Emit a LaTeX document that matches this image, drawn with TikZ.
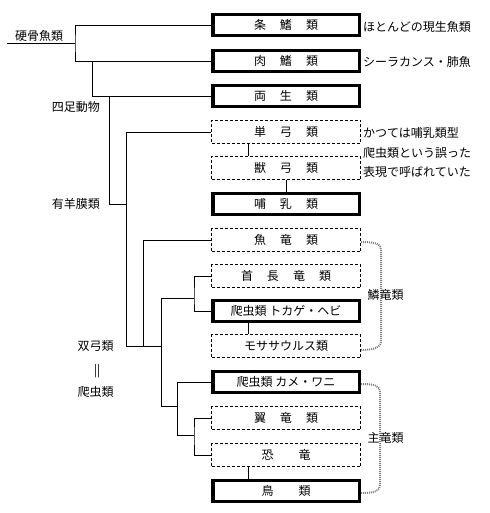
\documentclass[tikz,border=0pt]{standalone}
\usepackage{fontspec}
\newfontfamily\jpfont{Noto Sans CJK JP}
\newcommand{\kgap}{\hspace{14pt}}
\newcommand{\kwide}{\hspace{25pt}}
\tikzset{
  jp/.style={font=\jpfont\fontsize{12}{14}\selectfont},
  thickbox/.style={jp, draw, line width=3.5pt, minimum width=146.5pt, minimum height=21pt, inner sep=0pt},
  dashbox/.style={jp, draw, line width=0.8pt, dash pattern=on 3pt off 2pt, minimum width=149pt, minimum height=23pt, inner sep=0pt},
  tree/.style={line width=0.9pt},
  lbl/.style={jp, inner sep=0pt},
  brace/.style={draw={rgb,255:red,128;green,128;blue,128}, line width=2pt, dash pattern=on 1pt off 1pt},
}
\begin{document}
\begin{tikzpicture}[x=1pt,y=1pt]
\useasboundingbox (0,0) rectangle (489,-513);
% boxes
\node[thickbox] (b1)  at (286,-25)  {条\kgap 鰭\kgap 類};
\node[thickbox] (b2)  at (286,-61)  {肉\kgap 鰭\kgap 類};
\node[thickbox] (b3)  at (286,-96)  {両\kgap 生\kgap 類};
\node[dashbox]  (b4)  at (286,-132) {単\kgap 弓\kgap 類};
\node[dashbox]  (b5)  at (286,-168) {獣\kgap 弓\kgap 類};
\node[thickbox] (b6)  at (286,-204) {哺\kgap 乳\kgap 類};
\node[dashbox]  (b7)  at (286,-240) {魚\kgap 竜\kgap 類};
\node[dashbox]  (b8)  at (286,-276) {首\kgap 長\kgap 竜\kgap 類};
\node[thickbox] (b9)  at (286,-311) {爬虫類 トカゲ・ヘビ};
\node[dashbox]  (b10) at (286,-346) {モササウルス類};
\node[thickbox] (b11) at (286,-382) {爬虫類 カメ・ワニ};
\node[dashbox]  (b12) at (286,-418) {翼\kgap 竜\kgap 類};
\node[dashbox]  (b13) at (286,-455) {恐\kwide 竜};
\node[thickbox] (b14) at (286,-491) {鳥\kwide 類};
% junctions
\coordinate (r0) at (7,-43);
\coordinate (j1) at (75,-43);
\coordinate (j2) at (92,-61);
\coordinate (j3) at (109,-96);
\coordinate (j4) at (126,-204);
\coordinate (j5) at (126,-346);
\coordinate (j6) at (161,-346);
\coordinate (j7) at (143,-346);
\coordinate (j8) at (161,-298);
\coordinate (j9) at (161,-406);
\coordinate (j10) at (194,-298);
\coordinate (j11) at (177,-406);
\coordinate (j12) at (177,-435);
\coordinate (j13) at (194,-435);
% tree
\draw[tree] (r0) -- (j1);
\draw[tree] (b1.west) -| (j1) |- (b2.west);
\draw[tree] (j2) |- (b3.west);
\draw[tree] (j3) |- (j4);
\draw[tree] (b4.west) -| (j5) -- (j6);
\draw[tree] (j7) |- (b7.west);
\draw[tree] (j8) -- (j9);
\draw[tree] (j8) -- (j10);
\draw[tree] (b8.west) -| (j10) |- (b9.west);
\draw[tree] (j9) -- (j11);
\draw[tree] (b11.west) -| (j12) -- (j13);
\draw[tree] (b12.west) -| (j13) |- (b13.west);
\draw[tree] ([xshift=-38pt]b4.south) -- ([xshift=-38pt]b5.north);
\draw[tree] (b5.south) -- (b6.north);
\draw[tree] ([xshift=-38pt]b9.south) -- ([xshift=-38pt]b10.north);
\draw[tree] ([xshift=-38pt]b13.south) -- ([xshift=-38pt]b14.north);
% left labels
\node[lbl] (t1) at (39,-36) {硬骨魚類};
\node[lbl, anchor=east] (t2) at (100,-107) {四足動物};
\node[lbl, anchor=east] (t3) at (100,-204) {有羊膜類};
\node[lbl] (t4) at (95.5,-346) {双弓類};
\node[lbl] (t5) at (97,-371) {||};
\node[lbl] (t6) at (95.5,-392) {爬虫類};
% right notes
\node[lbl, anchor=west] (n1) at (363,-27)  {ほとんどの現生魚類};
\node[lbl, anchor=west] (n2) at (363,-62)  {シーラカンス・肺魚};
\node[lbl, anchor=west] (n3) at (363,-133) {かつては哺乳類型};
\node[lbl, anchor=west] (n4) at (363,-153) {爬虫類という誤った};
\node[lbl, anchor=west] (n5) at (363,-172) {表現で呼ばれていた};
% braces
\coordinate (c1a) at (381,-250);
\coordinate (c1b) at (381,-340);
\draw[brace] ([yshift=-2pt]b7.east) .. controls (376,-242) and (381,-244) .. (c1a) -- (c1b) .. controls (381,-347) and (376,-350) .. ([yshift=-4pt]b10.east);
\node[lbl] (s1) at (385.5,-295) {鱗竜類};
\coordinate (c2a) at (380,-392);
\coordinate (c2b) at (380,-485);
\draw[brace] ([yshift=-2pt]b11.east) .. controls (375,-384) and (380,-386) .. (c2a) -- (c2b) .. controls (380,-491) and (375,-493) .. ([yshift=-2pt]b14.east);
\node[lbl] (s2) at (385.5,-438) {主竜類};
\end{tikzpicture}
\end{document}
